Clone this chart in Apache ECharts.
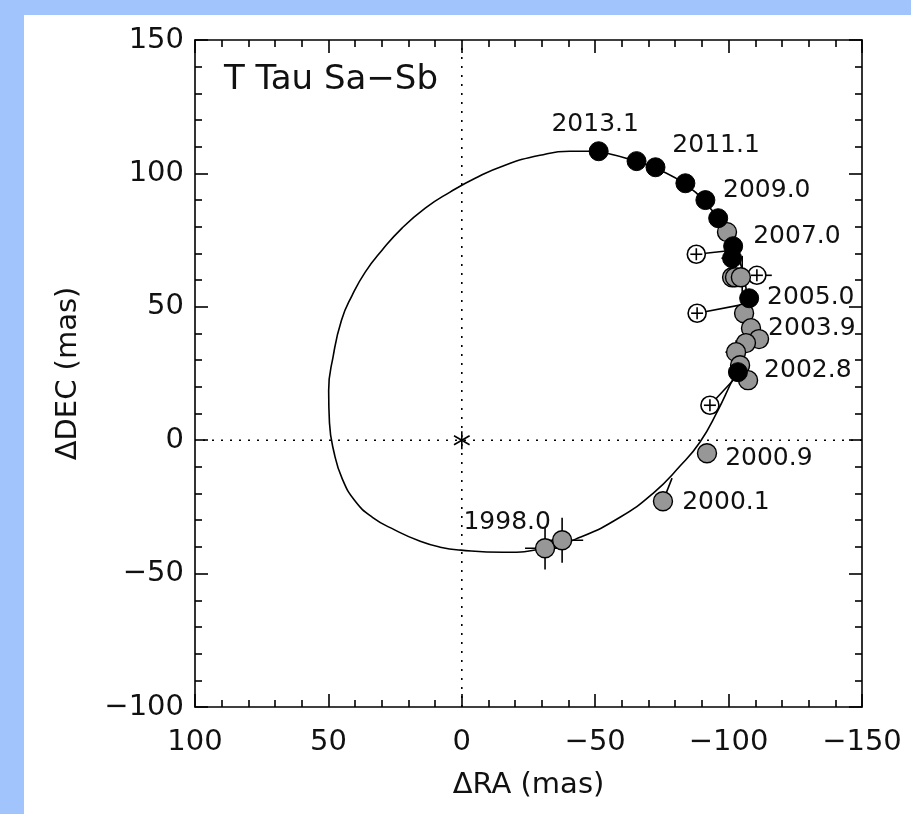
<!DOCTYPE html>
<html>
<head>
<meta charset="utf-8">
<script src="https://cdn.jsdelivr.net/npm/echarts@6/dist/echarts.min.js"></script>
<style>
  html, body { margin:0; padding:0; width:911px; height:814px; background:#a2c4fc; overflow:hidden; }
  #paper { position:absolute; left:24px; top:15px; right:0; bottom:0; background:#fff; }
  #chart { position:absolute; left:0; top:0; width:911px; height:814px; }
</style>
</head>
<body>
<div id="paper"></div>
<div id="chart"></div>
<script>
// ---- data (ΔRA, ΔDEC in mas) ----
const xTicks = [100, 50, 0, -50, -100, -150];
const yTicks = [-100, -50, 0, 50, 100, 150];

// fitted orbit
const orbitPts = [
  [-51.3,108.3],[-40.5,108.3],[-29.3,106.8],[-16.2,103.1],[-5.0,98.2],[4.4,93.0],
  [13.7,87.0],[22.4,79.5],[29.9,71.2],[36.2,63.0],[41.1,54.3],[45.1,45.0],[48.2,31.5],
  [49.9,18.5],[49.6,6.5],[47.9,-4.5],[44.8,-14.5],[40.0,-22.8],[33.5,-28.9],
  [25.0,-33.7],[15.6,-37.9],[8.1,-40.1],[0.3,-41.2],[-15.5,-42.0],[-31.2,-40.5],
  [-44.3,-36.4],[-59.3,-28.9],[-71.7,-19.9],[-81.8,-9.7],[-89.3,-0.7],[-96.0,11.2],
  [-100.5,20.6],[-103.5,27.0],[-105.8,37.5],[-106.9,48.7],[-106.1,60.0],[-103.1,69.3],
  [-97.5,80.6],[-91.1,89.2],[-83.6,96.0],[-74.3,101.2],[-65.3,104.6],[-51.3,108.3]
];

const blackPts = [
  [-51.3,108.3],[-65.5,104.6],[-72.6,102.3],[-83.8,96.3],[-91.3,90.0],[-96.1,83.2],
  [-101.7,72.7],[-101.3,68.2],[-107.7,53.2],[-103.5,25.5]
];

const grayPts = [
  [-99.4,78.0],[-101.3,61.1],[-102.4,61.1],[-104.6,61.1],[-105.8,47.6],[-108.4,42.0],
  [-111.4,37.9],[-106.5,36.4],[-102.8,33.0],[-104.3,28.1],[-107.3,22.5],
  [-91.9,-4.9],[-75.4,-22.9],[-31.2,-40.5],[-37.6,-37.5]
];

const openPts = [
  [-87.9,69.7],[-88.2,47.6],[-93.0,13.1],[-110.6,61.8]
];

// [RA, DEC, RA error, DEC error]
const errorBars = [
  [-31.2,-40.5,7.5,8.0],[-37.6,-37.5,7.9,8.4],[-102.8,33.0,4.0,4.5],
  [-110.6,61.8,5.6,0],[-105.1,61.1,0,8.0],[-101.3,68.2,4.0,0]
];

// measured point -> orbit position
const residualLines = [
  [-87.9,69.7,-101.7,71.2],[-88.2,47.6,-106.1,51.0],
  [-93.0,13.1,-101.7,22.5],[-75.4,-22.9,-78.8,-14.2]
];

const epochLabels = ['2013.1','2011.1','2009.0','2007.0','2005.0','2003.9','2002.8','2000.9','2000.1','1998.0'];
const epochLabelPos = [
  [-50.0,118.4],[-95.3,110.6],[-114.3,93.7],[-125.6,76.5],[-130.8,53.6],
  [-131.2,42.0],[-129.7,26.2],[-115.1,-6.7],[-99.0,-23.2],[-17.0,-30.7]
];

const starPos = [[0,0]];

// ---- chart ----
const FONT = '"DejaVu Sans", sans-serif';
const INK = '#000';
const TXT = '#111';
const chart = echarts.init(document.getElementById('chart'), null, {renderer:'canvas'});

const fmt = v => (v < 0 ? '\u2212' + Math.abs(v) : String(v));

function xAxisDef(pos, showLabel) {
  return {
    type:'value', min:-150, max:100, interval:50, inverse:true, position:pos,
    axisLine:{show:true, onZero:false, lineStyle:{color:INK, width:1.6}},
    axisTick:{show:true, inside:true, length:13, lineStyle:{color:INK, width:1.6}},
    minorTick:{show:true, splitNumber:5, length:7, lineStyle:{color:INK, width:1.6}},
    splitLine:{show:false},
    axisLabel:{show:showLabel, margin:21, fontSize:29, color:TXT, fontFamily:FONT, formatter:fmt},
    name: showLabel ? '\u0394RA (mas)' : '', nameLocation:'middle', nameGap:64,
    nameTextStyle:{fontSize:29, color:TXT, fontFamily:FONT}
  };
}
function yAxisDef(pos, showLabel) {
  return {
    type:'value', min:-100, max:150, interval:50, position:pos,
    axisLine:{show:true, onZero:false, lineStyle:{color:INK, width:1.6}},
    axisTick:{show:true, inside:true, length:13, lineStyle:{color:INK, width:1.6}},
    minorTick:{show:true, splitNumber:5, length:7, lineStyle:{color:INK, width:1.6}},
    splitLine:{show:false},
    axisLabel:{show:showLabel, margin:11, fontSize:29, color:TXT, fontFamily:FONT, formatter:fmt},
    name: showLabel ? '\u0394DEC (mas)' : '', nameLocation:'middle', nameGap:112,
    nameTextStyle:{fontSize:29, color:TXT, fontFamily:FONT}
  };
}

const option = {
  backgroundColor:'transparent',
  animation:false,
  title:{
    text:'T Tau Sa\u2212Sb', left:219, top:58,
    textStyle:{fontSize:34, fontWeight:'normal', color:TXT, fontFamily:FONT}
  },
  grid:{left:195, top:40, right:49, bottom:107, containLabel:false},
  xAxis:[xAxisDef('bottom', true), xAxisDef('top', false)],
  yAxis:[yAxisDef('left', true), yAxisDef('right', false)],
  series:[
    { // dotted zero lines
      type:'line', data:[[0,-100],[0,150]], symbol:'none', silent:true,
      lineStyle:{color:INK, width:1.6, type:[2,7]}, z:1
    },
    {
      type:'line', data:[[-150,0],[100,0]], symbol:'none', silent:true,
      lineStyle:{color:INK, width:1.6, type:[2,7]}, z:1
    },
    { // orbit
      type:'line', data:orbitPts, symbol:'none', smooth:0.5, silent:true,
      lineStyle:{color:INK, width:1.6}, z:2
    },
    { // residual connectors
      type:'custom', data:residualLines, z:3, silent:true,
      renderItem:(params, api) => {
        const a = api.coord([api.value(0), api.value(1)]);
        const b = api.coord([api.value(2), api.value(3)]);
        return {type:'line', shape:{x1:a[0], y1:a[1], x2:b[0], y2:b[1]},
                style:{stroke:INK, lineWidth:1.6}};
      }
    },
    { // error bars
      type:'custom', data:errorBars, z:4, silent:true,
      renderItem:(params, api) => {
        const ra = api.value(0), de = api.value(1), ex = api.value(2), ey = api.value(3);
        const kids = [];
        if (ex > 0) {
          const p1 = api.coord([ra - ex, de]), p2 = api.coord([ra + ex, de]);
          kids.push({type:'line', shape:{x1:p1[0], y1:p1[1], x2:p2[0], y2:p2[1]}, style:{stroke:INK, lineWidth:1.6}});
        }
        if (ey > 0) {
          const p1 = api.coord([ra, de - ey]), p2 = api.coord([ra, de + ey]);
          kids.push({type:'line', shape:{x1:p1[0], y1:p1[1], x2:p2[0], y2:p2[1]}, style:{stroke:INK, lineWidth:1.6}});
        }
        return {type:'group', children:kids};
      }
    },
    { // open circles with plus
      type:'custom', data:openPts, z:5, silent:true,
      renderItem:(params, api) => {
        const c = api.coord([api.value(0), api.value(1)]);
        const r = 9, s = 6;
        return {type:'group', children:[
          {type:'circle', shape:{cx:c[0], cy:c[1], r:r}, style:{fill:'#fff', stroke:INK, lineWidth:1.6}},
          {type:'line', shape:{x1:c[0]-s, y1:c[1], x2:c[0]+s, y2:c[1]}, style:{stroke:INK, lineWidth:1.6}},
          {type:'line', shape:{x1:c[0], y1:c[1]-s, x2:c[0], y2:c[1]+s}, style:{stroke:INK, lineWidth:1.6}}
        ]};
      }
    },
    { // gray points
      type:'scatter', data:grayPts, symbol:'circle', symbolSize:19, z:6, silent:true,
      itemStyle:{color:'#979797', borderColor:INK, borderWidth:1.4, opacity:1}
    },
    { // black points
      type:'scatter', data:blackPts, symbol:'circle', symbolSize:19, z:7, silent:true,
      itemStyle:{color:'#000', borderColor:INK, borderWidth:1, opacity:1}
    },
    { // central star
      type:'custom', data:starPos, z:7, silent:true,
      renderItem:(params, api) => {
        const c = api.coord([api.value(0), api.value(1)]);
        const L = 9, kids = [];
        [90, 30, -30].forEach(deg => {
          const t = deg * Math.PI / 180, dx = L*Math.cos(t), dy = L*Math.sin(t);
          kids.push({type:'line', shape:{x1:c[0]-dx, y1:c[1]-dy, x2:c[0]+dx, y2:c[1]+dy}, style:{stroke:INK, lineWidth:1.6}});
        });
        return {type:'group', children:kids};
      }
    },
    { // epoch labels
      type:'scatter', symbolSize:0, z:8, silent:true,
      itemStyle:{opacity:1},
      data: epochLabels.map((t, i) => ({name:t, value:epochLabelPos[i]})),
      label:{show:true, position:'inside', formatter:p => p.name, fontSize:25, color:TXT, opacity:1, fontFamily:FONT}
    }
  ]
};
chart.setOption(option);
</script>
</body>
</html>
